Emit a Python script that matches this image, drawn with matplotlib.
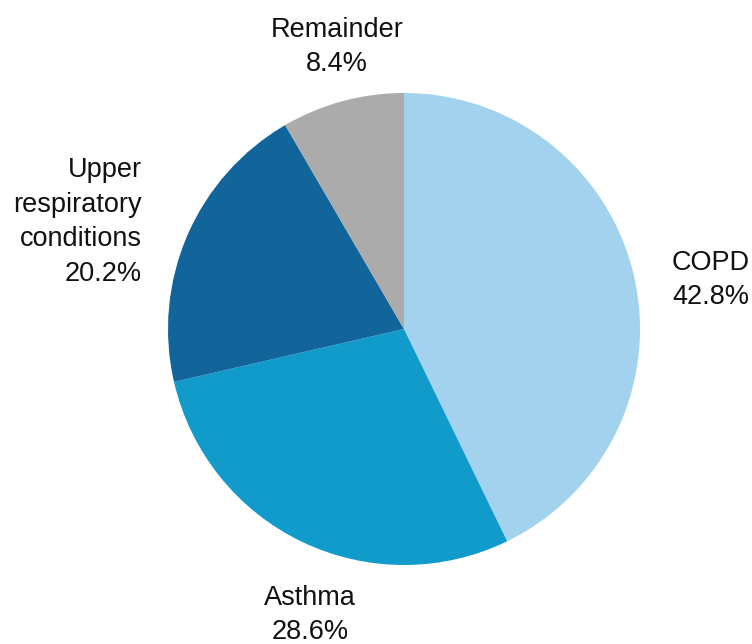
import matplotlib.pyplot as plt

categories = ["COPD", "Asthma", "Upper\nrespiratory\nconditions", "Remainder"]
shares = [42.8, 28.6, 20.2, 8.4]
colors = ["#A2D2EE", "#109BCB", "#12659A", "#ABABAB"]

plt.rcParams["font.family"] = ["Liberation Sans", "DejaVu Sans"]

W, H = 752, 644
fig = plt.figure(figsize=(W / 100, H / 100), dpi=100)
ax = fig.add_axes([0, 0, 1, 1])

ax.pie(shares, colors=colors, startangle=90, counterclock=False,
       center=(404, H - 329), radius=236,
       wedgeprops=dict(edgecolor="none"))

# pie() resets the limits, so fix them afterwards
ax.set_xlim(0, W)
ax.set_ylim(0, H)
ax.set_aspect("equal")
ax.axis("off")

# label anchors (x, y from top, alignment)
label_pos = [
    (672, 280, "left"),
    (310, 615, "center"),
    (142, 222, "right"),
    (337, 47, "center"),
]
for name, val, (x, y, ha) in zip(categories, shares, label_pos):
    ax.text(x, H - y, f"{name}\n{val:.1f}%", ha=ha, va="center",
            fontsize=19.5, linespacing=1.42, color="#111111")

fig.savefig("out.png", dpi=100)
